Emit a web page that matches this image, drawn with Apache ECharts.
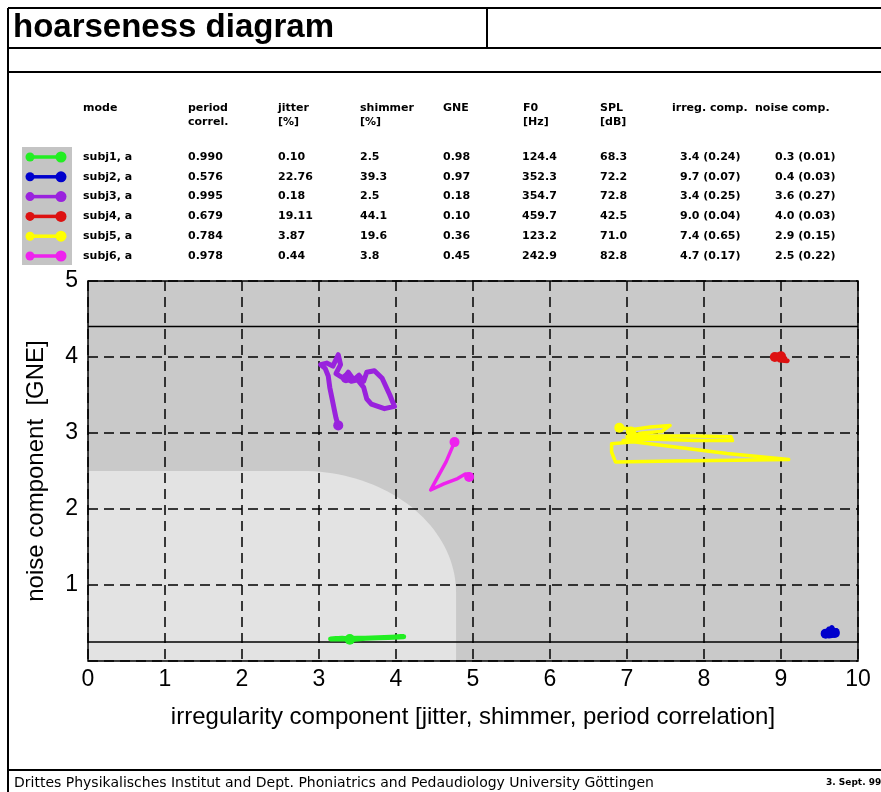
<!DOCTYPE html>
<html>
<head>
<meta charset="utf-8">
<script src="https://cdn.jsdelivr.net/npm/echarts@6/dist/echarts.min.js"></script>
<style>
  html, body { margin: 0; padding: 0; background: #fff; }
  #chart { width: 881px; height: 792px; }
</style>
</head>
<body>
<div id="chart"></div>
<script>
// ---- table content -------------------------------------------------------
const subjects      = ['subj1, a', 'subj2, a', 'subj3, a', 'subj4, a', 'subj5, a', 'subj6, a'];
const subjectColors = ['#22ee22', '#0000cc', '#9922dd', '#dd1111', '#ffff00', '#ee22ee'];
const periodCorrel  = ['0.990', '0.576', '0.995', '0.679', '0.784', '0.978'];
const jitterPct     = ['0.10', '22.76', '0.18', '19.11', '3.87', '0.44'];
const shimmerPct    = ['2.5', '39.3', '2.5', '44.1', '19.6', '3.8'];
const gneValues     = ['0.98', '0.97', '0.18', '0.10', '0.36', '0.45'];
const f0Hz          = ['124.4', '352.3', '354.7', '459.7', '123.2', '242.9'];
const splDb         = ['68.3', '72.2', '72.8', '42.5', '71.0', '82.8'];
const irregComp     = ['3.4 (0.24)', '9.7 (0.07)', '3.4 (0.25)', '9.0 (0.04)', '7.4 (0.65)', '4.7 (0.17)'];
const noiseComp     = ['0.3 (0.01)', '0.4 (0.03)', '3.6 (0.27)', '4.0 (0.03)', '2.9 (0.15)', '2.5 (0.22)'];
const tableHeaders  = [['mode'], ['period', 'correl.'], ['jitter', '[%]'], ['shimmer', '[%]'], ['GNE'],
                       ['F0', '[Hz]'], ['SPL', '[dB]'], ['irreg. comp.'], ['noise comp.']];

// ---- axes ------------------------------------------------------------------
const xTickLabels = ['0', '1', '2', '3', '4', '5', '6', '7', '8', '9', '10'];
const yTickLabels = ['', '1', '2', '3', '4', '5'];
const xName = 'irregularity component [jitter, shimmer, period correlation]';
const yName = 'noise component  [GNE]';

// ---- background zones (data units) ----------------------------------------
const zoneUpperLine = 4.4;     // solid separation line near the top
const zoneLowerLine = 0.25;    // solid separation line near the bottom
const normalZoneX   = 4.78;    // right edge of the light "normal" area
const normalZoneY   = 2.5;     // top edge of the light "normal" area
const normalCornerX = 2.0;     // corner radius along x
const normalCornerY = 1.6;     // corner radius along y

// ---- trajectories [irregularity, noise] -------------------------------------
const traceSubj1 = [[3.4,0.28],[3.6,0.3],[3.85,0.31],[4.1,0.32],[3.9,0.31],[3.5,0.3],[3.15,0.29],[3.3,0.3],[3.4,0.29]];
const traceSubj2 = [[9.58,0.36],[9.62,0.42],[9.66,0.38],[9.72,0.4],[9.68,0.34],[9.62,0.33],[9.6,0.38],[9.66,0.44],[9.7,0.37]];
const traceSubj3 = [[3.25,3.1],[3.22,3.2],[3.2,3.3],[3.17,3.45],[3.14,3.6],[3.12,3.75],[3.08,3.85],[3.02,3.9],
                    [3.1,3.92],[3.18,3.88],[3.25,4.03],[3.28,3.9],[3.22,3.78],[3.32,3.72],[3.38,3.8],[3.45,3.7],
                    [3.52,3.76],[3.58,3.68],[3.62,3.8],[3.72,3.82],[3.82,3.72],[3.92,3.5],[3.98,3.35],[3.85,3.32],
                    [3.68,3.38],[3.62,3.45],[3.58,3.6],[3.5,3.7],[3.42,3.68],[3.35,3.72]];
const traceSubj4 = [[8.92,4.0],[8.97,4.03],[9.02,3.97],[9.08,3.95],[8.98,3.96],[8.95,3.99],[9.05,3.98],[9.0,4.01]];
const traceSubj5 = [[6.9,3.07],[7.1,3.05],[7.3,3.08],[7.56,3.1],[7.45,3.02],[7.2,3.0],[7.0,2.95],[7.4,2.96],
                    [7.9,2.96],[8.35,2.95],[8.37,2.9],[7.9,2.9],[7.3,2.92],[6.95,2.9],[7.6,2.82],[8.3,2.73],
                    [9.1,2.65],[8.4,2.64],[7.6,2.63],[6.85,2.62],[6.8,2.75],[6.8,2.86],[7.05,2.88],[7.2,2.95],[7.05,3.02]];
const traceSubj6 = [[4.76,2.88],[4.65,2.62],[4.52,2.38],[4.45,2.25],[4.62,2.33],[4.8,2.4],[4.9,2.46],[4.98,2.45],[4.95,2.42]];
const traces = [traceSubj1, traceSubj2, traceSubj3, traceSubj4, traceSubj5, traceSubj6];

// ---- page layout ----------------------------------------------------------
const tableFont = 'bold 11px "DejaVu Sans"';
const headerCols = [83, 188, 278, 360, 443, 523, 600, 672, 755];
const dataCols   = [83, 188, 278, 360, 443, 522, 600, 680, 775];
const headerY = 108, headerStep = 14;
const rowY0 = 157, rowStep = 19.8;
const traceWidths = [5, 5, 5, 5, 3.5, 3.5];

const graphics = [];
// page frame
const frameLine = (x1, y1, x2, y2) => graphics.push({
  type: 'line', shape: { x1, y1, x2, y2 }, style: { stroke: '#000', lineWidth: 2 }, silent: true
});
frameLine(8, 8, 900, 8);
frameLine(8, 48, 900, 48);
frameLine(8, 72, 900, 72);
frameLine(8, 770, 900, 770);
frameLine(8, 8, 8, 800);
frameLine(487, 8, 487, 48);

graphics.push({ type: 'text', style: { text: 'hoarseness diagram', x: 13, y: 28, font: 'bold 33px "Liberation Sans"',
  fill: '#000', verticalAlign: 'middle' } });
graphics.push({ type: 'text', style: { text: 'Drittes Physikalisches Institut and Dept. Phoniatrics and Pedaudiology University Göttingen',
  x: 14, y: 783, font: '14px "DejaVu Sans"', fill: '#000', verticalAlign: 'middle' } });
graphics.push({ type: 'text', style: { text: '3. Sept. 99', x: 826, y: 783, font: 'bold 9px "DejaVu Sans"',
  fill: '#000', verticalAlign: 'middle' } });

// table header
tableHeaders.forEach((lines, c) => lines.forEach((t, k) => graphics.push({
  type: 'text', style: { text: t, x: headerCols[c], y: headerY + k * headerStep, font: tableFont, fill: '#000', verticalAlign: 'middle' }
})));

// legend swatch background
graphics.push({ type: 'rect', shape: { x: 22, y: 147, width: 50, height: 118 }, style: { fill: '#c4c4c4' } });

const columns = [subjects, periodCorrel, jitterPct, shimmerPct, gneValues, f0Hz, splDb, irregComp, noiseComp];
subjects.forEach((s, r) => {
  const y = rowY0 + r * rowStep;
  const col = subjectColors[r];
  graphics.push({ type: 'line', shape: { x1: 29, y1: y, x2: 61, y2: y }, style: { stroke: col, lineWidth: 3.5 } });
  graphics.push({ type: 'circle', shape: { cx: 30, cy: y, r: 4.5 }, style: { fill: col } });
  graphics.push({ type: 'circle', shape: { cx: 61, cy: y, r: 5.5 }, style: { fill: col } });
  columns.forEach((arr, c) => graphics.push({
    type: 'text', style: { text: arr[r], x: dataCols[c], y, font: tableFont, fill: '#000', verticalAlign: 'middle' }
  }));
});

// ---- plot ------------------------------------------------------------------
function zonesRender(params, api) {
  const tl = api.coord([0, 5]), br = api.coord([10, 0]);
  const pts = [api.coord([0, 0]), api.coord([normalZoneX, 0])];
  const cx = normalZoneX - normalCornerX, cy = normalZoneY - normalCornerY;
  for (let i = 0; i <= 40; i++) {
    const a = (i / 40) * Math.PI / 2;
    pts.push(api.coord([cx + normalCornerX * Math.cos(a), cy + normalCornerY * Math.sin(a)]));
  }
  pts.push(api.coord([0, normalZoneY]));
  return {
    type: 'group',
    children: [
      { type: 'rect', shape: { x: tl[0], y: tl[1], width: br[0] - tl[0], height: br[1] - tl[1] }, style: { fill: '#c9c9c9' } },
      { type: 'polygon', shape: { points: pts }, style: { fill: '#e3e3e3' } }
    ]
  };
}

function frameRender(params, api) {
  const tl = api.coord([0, 5]), br = api.coord([10, 0]);
  const up = api.coord([0, zoneUpperLine]), lo = api.coord([0, zoneLowerLine]);
  const lineStyle = { stroke: '#000', lineWidth: 1.5, fill: null };
  return {
    type: 'group',
    children: [
      { type: 'line', shape: { x1: tl[0], y1: up[1], x2: br[0], y2: up[1] }, style: lineStyle },
      { type: 'line', shape: { x1: tl[0], y1: lo[1], x2: br[0], y2: lo[1] }, style: lineStyle },
      { type: 'rect', shape: { x: tl[0], y: tl[1], width: br[0] - tl[0], height: br[1] - tl[1] }, style: lineStyle }
    ]
  };
}

const dataSeries = traces.map((trace, i) => ({
  name: subjects[i],
  type: 'line',
  data: trace,
  z: 10,
  symbol: 'circle',
  symbolSize: (v, p) => (p.dataIndex === 0 || p.dataIndex === trace.length - 1) ? 10 : 0,
  showSymbol: true,
  itemStyle: { color: subjectColors[i] },
  lineStyle: { color: subjectColors[i], width: traceWidths[i], cap: 'round', join: 'round' },
  clip: false
}));

const axisFont = { fontFamily: 'Liberation Sans', fontSize: 23, color: '#000' };
const option = {
  animation: false,
  backgroundColor: '#fff',
  graphic: graphics,
  grid: { left: 88, top: 281, width: 770, height: 380, show: false },
  xAxis: {
    type: 'value', min: 0, max: 10, interval: 1, z: 5,
    name: xName, nameLocation: 'middle', nameGap: 44,
    nameTextStyle: { fontFamily: 'Liberation Sans', fontSize: 24, color: '#000' },
    axisLine: { show: false }, axisTick: { show: false },
    axisLabel: Object.assign({ margin: 7, formatter: v => xTickLabels[Math.round(v)] }, axisFont),
    splitLine: { show: true, lineStyle: { color: '#000', type: [10, 6], width: 1.5 } }
  },
  yAxis: {
    type: 'value', min: 0, max: 5, interval: 1, z: 5,
    name: yName, nameLocation: 'middle', nameGap: 40,
    nameTextStyle: { fontFamily: 'Liberation Sans', fontSize: 24, color: '#000' },
    axisLine: { show: false }, axisTick: { show: false },
    axisLabel: Object.assign({ margin: 10, formatter: v => yTickLabels[Math.round(v)] }, axisFont),
    splitLine: { show: true, lineStyle: { color: '#000', type: [10, 6], width: 1.5 } }
  },
  series: [
    { type: 'custom', name: 'zones', renderItem: zonesRender, data: [[0, 0]], z: 1, silent: true, clip: false },
    { type: 'custom', name: 'frame', renderItem: frameRender, data: [[0, 0]], z: 8, silent: true, clip: false },
    ...dataSeries
  ]
};

const chart = echarts.init(document.getElementById('chart'), null, { renderer: 'canvas' });
chart.setOption(option);
</script>
</body>
</html>
